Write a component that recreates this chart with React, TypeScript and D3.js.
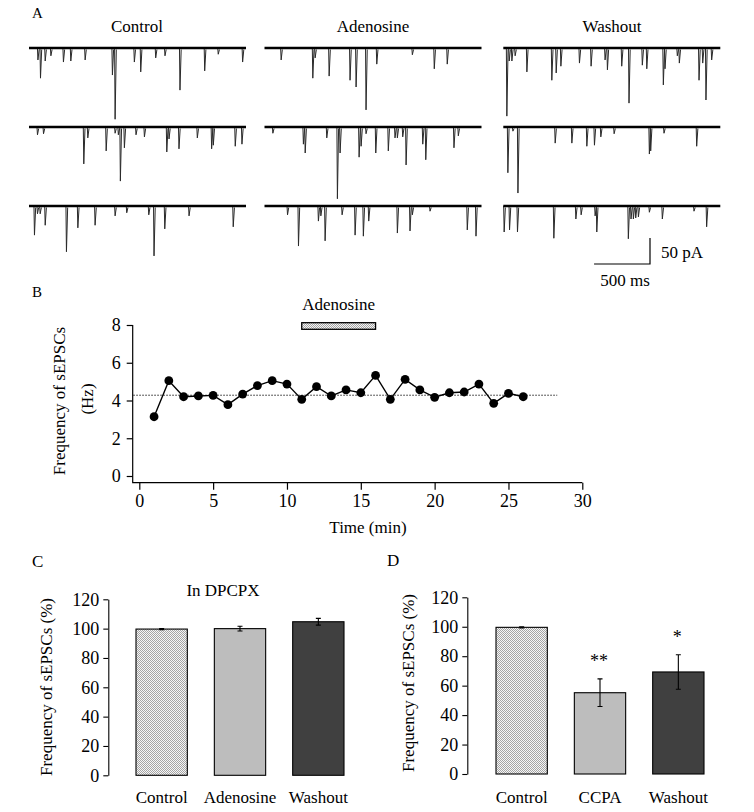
import React, { useEffect, useRef } from 'react';
import * as d3 from 'd3';

const W = 754;
const H = 812;
const FONT = '"Liberation Serif", "Times New Roman", serif';

// --- Panel A: sweeps, events as [time (ms), amplitude (pA)] ---
const TRACE_MS = 1940;
const controlRow1 = [[78, 23], [101, 58], [143, 25], [194, 15], [306, 27], [372, 25], [500, 23], [744, 52], [768, 137], [940, 27], [997, 46], [1131, 19], [1214, 15], [1348, 81], [1569, 44], [1690, 12], [1908, 27]];
const controlRow2 = [[74, 15], [128, 13], [488, 71], [524, 21], [688, 46], [768, 12], [797, 15], [815, 104], [851, 40], [955, 15], [1030, 19], [1230, 48], [1250, 23], [1339, 42], [1503, 21], [1631, 42], [1646, 35], [1842, 37], [1902, 33]];
const controlRow3 = [[47, 56], [74, 15], [98, 15], [143, 37], [333, 88], [435, 42], [589, 37], [768, 19], [872, 13], [1069, 17], [1116, 96], [1212, 44], [1429, 19], [1824, 40]];
const adenosineRow1 = [[147, 23], [430, 58], [451, 19], [576, 54], [763, 62], [817, 75], [906, 119], [1002, 31], [1320, 13], [1516, 40], [1632, 31]];
const adenosineRow2 = [[73, 12], [346, 33], [362, 50], [555, 21], [650, 138], [674, 50], [844, 58], [862, 37], [906, 13], [993, 50], [1105, 46], [1165, 21], [1186, 21], [1234, 19], [1264, 73], [1413, 33], [1440, 63], [1692, 40], [1731, 17]];
const adenosineRow3 = [[204, 17], [302, 77], [480, 29], [502, 19], [540, 67], [692, 17], [808, 56], [882, 58], [930, 29], [1186, 52], [1299, 48], [1320, 17], [1478, 10], [1811, 46], [1889, 58]];
const washoutRow1 = [[30, 131], [51, 25], [75, 25], [104, 15], [209, 46], [432, 62], [471, 48], [513, 35], [679, 29], [783, 35], [908, 23], [929, 42], [1057, 35], [1122, 106], [1241, 33], [1281, 40], [1429, 71], [1444, 40], [1554, 15], [1572, 29], [1748, 62], [1781, 29], [1810, 100], [1861, 23]];
const washoutRow2 = [[39, 88], [84, 8], [129, 127], [462, 31], [611, 31], [745, 37], [813, 35], [870, 19], [989, 13], [1304, 52], [1316, 46], [1435, 12], [1727, 37]];
const washoutRow3 = [[6, 50], [54, 46], [125, 50], [450, 62], [647, 25], [694, 17], [819, 19], [834, 50], [1116, 63], [1140, 25], [1161, 25], [1182, 23], [1206, 21], [1304, 12], [1420, 25], [1703, 10], [1816, 40]];
const traceConditions = ['Control', 'Adenosine', 'Washout'];
const traceSets = [
    [controlRow1, controlRow2, controlRow3],
    [adenosineRow1, adenosineRow2, adenosineRow3],
    [washoutRow1, washoutRow2, washoutRow3],
];

// --- Panel B: time course ---
const timeMin = [1, 2, 3, 4, 5, 6, 7, 8, 9, 10, 11, 12, 13, 14, 15, 16, 17, 18, 19, 20, 21, 22, 23, 24, 25, 26];
const freqHz = [3.14, 5.05, 4.2, 4.24, 4.27, 3.78, 4.34, 4.79, 5.05, 4.87, 4.06, 4.73, 4.24, 4.56, 4.41, 5.33, 4.06, 5.12, 4.56, 4.17, 4.41, 4.45, 4.87, 3.85, 4.38, 4.2];
const baselineHz = 4.28;
const baselineSpan = [-0.4, 28.3];
const drugSpan = [11, 16];

// --- Panels C & D: bars ---
const dpcpxGroups = ['Control', 'Adenosine', 'Washout'];
const dpcpxMean = [99.7, 100, 104.7];
const dpcpxSem = [0.4, 1.6, 2.3];
const ccpaGroups = ['Control', 'CCPA', 'Washout'];
const ccpaMean = [99.6, 55.2, 69.3];
const ccpaSem = [0.4, 9.4, 11.7];
const ccpaStars = ['', '**', '*'];
const barFills = ['url(#dither)', '#bdbdbd', '#404040'];

const App = () => {
    const svgRef = useRef(null);

    useEffect(() => {
        document.body.style.margin = '0';
        const svg = d3.select(svgRef.current);
        svg.selectAll('*').remove();
        svg.style('font-family', FONT).style('background', '#fff');

        // fine checker (dither) fill used for control bars and the drug bar
        const defs = svg.append('defs');
        const pat = defs.append('pattern').attr('id', 'dither')
            .attr('patternUnits', 'userSpaceOnUse').attr('width', 2).attr('height', 2);
        pat.append('rect').attr('width', 2).attr('height', 2).attr('fill', '#f6f6f6');
        pat.append('rect').attr('x', 0).attr('y', 0).attr('width', 1).attr('height', 1).attr('fill', '#a4a4a4');
        pat.append('rect').attr('x', 1).attr('y', 1).attr('width', 1).attr('height', 1).attr('fill', '#a4a4a4');

        const letter = (t, x, y, size) => svg.append('text').attr('x', x).attr('y', y)
            .attr('font-size', size).text(t);
        const label = (t, x, y, size = 17, anchor = 'middle') => svg.append('text')
            .attr('x', x).attr('y', y).attr('font-size', size).attr('text-anchor', anchor).text(t);
        const vlabel = (t, x, y) => svg.append('text')
            .attr('transform', `translate(${x},${y}) rotate(-90)`)
            .attr('font-size', 17).attr('text-anchor', 'middle').text(t);

        // ---------- A ----------
        letter('A', 32, 18, 15);
        const colX = [29, 264.5, 503.3];
        const rowY = [48, 127, 206];
        const titleX = [137, 373, 612];
        const tx = d3.scaleLinear().domain([0, TRACE_MS]).range([0, 217]);
        const ty = d3.scaleLinear().domain([0, 50]).range([0, 26]);
        const spike = d3.line();

        traceConditions.forEach((cond, c) => {
            label(cond, titleX[c], 32);
            traceSets[c].forEach((events, r) => {
                const g = svg.append('g').attr('transform', `translate(${colX[c]},${rowY[r]})`);
                g.selectAll('path.ev').data(events).join('path').attr('class', 'ev')
                    .attr('d', ([t, a]) => spike([[tx(t) - 0.3, 0], [tx(t) + 0.2, ty(a)], [tx(t) + 1.4, 1.5]]))
                    .attr('fill', 'none').attr('stroke', '#2a2a2a').attr('stroke-width', 1);
                g.append('line').attr('x1', tx(0)).attr('x2', tx(TRACE_MS)).attr('y1', 0).attr('y2', 0)
                    .attr('stroke', '#000').attr('stroke-width', 2.3);
            });
        });

        // scale bar
        const sbX = 650, sbY = 264;
        svg.append('path')
            .attr('d', `M${sbX},${sbY - ty(50)} L${sbX},${sbY} L${sbX - tx(500)},${sbY}`)
            .attr('fill', 'none').attr('stroke', '#000').attr('stroke-width', 1.2);
        label('50 pA', 661, 258, 17, 'start');
        label('500 ms', 625, 286);

        // ---------- B ----------
        letter('B', 32, 297, 15);
        const bx = d3.scaleLinear().domain([0, 30]).range([139.3, 582.3]);
        const by = d3.scaleLinear().domain([0, 8]).range([476, 325]);
        const axisY = 482.7, axisX = 132.7;

        const gy = svg.append('g').attr('transform', `translate(${axisX},0)`)
            .call(d3.axisLeft(by).tickValues([0, 2, 4, 6, 8]).tickSize(6).tickPadding(6).tickSizeOuter(0));
        gy.select('.domain').remove();
        const gx = svg.append('g').attr('transform', `translate(0,${axisY})`)
            .call(d3.axisBottom(bx).tickValues([0, 5, 10, 15, 20, 25, 30]).tickSize(7).tickPadding(5).tickSizeOuter(0));
        gx.select('.domain').remove();
        [gx, gy].forEach(g => {
            g.selectAll('text').attr('font-size', 18).attr('font-family', FONT).attr('fill', '#000');
            g.selectAll('line').attr('stroke-width', 1.2);
        });
        svg.append('path')
            .attr('d', `M${axisX},${by(8)} L${axisX},${axisY} L${bx(30)},${axisY}`)
            .attr('fill', 'none').attr('stroke', '#000').attr('stroke-width', 1.2);

        svg.append('line')
            .attr('x1', bx(baselineSpan[0])).attr('x2', bx(baselineSpan[1]))
            .attr('y1', by(baselineHz)).attr('y2', by(baselineHz))
            .attr('stroke', '#000').attr('stroke-width', 1).attr('stroke-dasharray', '1.3,1.7');

        const pts = timeMin.map((t, i) => [t, freqHz[i]]);
        svg.append('path').datum(pts)
            .attr('d', d3.line().x(d => bx(d[0])).y(d => by(d[1])))
            .attr('fill', 'none').attr('stroke', '#000').attr('stroke-width', 1.4);
        svg.append('g').selectAll('circle').data(pts).join('circle')
            .attr('cx', d => bx(d[0])).attr('cy', d => by(d[1])).attr('r', 4.4).attr('fill', '#000');

        svg.append('rect')
            .attr('x', bx(drugSpan[0])).attr('y', 322.7)
            .attr('width', bx(drugSpan[1]) - bx(drugSpan[0])).attr('height', 6.6)
            .attr('fill', 'url(#dither)').attr('stroke', '#000').attr('stroke-width', 1.3);
        label('Adenosine', (bx(drugSpan[0]) + bx(drugSpan[1])) / 2, 310);
        label('Time (min)', 368, 533);
        vlabel('Frequency of sEPSCs', 65, 401);
        vlabel('(Hz)', 92.5, 399);

        // ---------- C & D ----------
        const barPanel = (groups, mean, sem, stars, axX, y0, y120, r0, r1, ylabX, ylabY, catY) => {
            const y = d3.scaleLinear().domain([0, 120]).range([y0, y120]);
            const x = d3.scaleBand().domain(groups).range([r0, r1]).paddingInner(0.345).paddingOuter(0);
            const ga = svg.append('g').attr('transform', `translate(${axX},0)`)
                .call(d3.axisLeft(y).tickValues([0, 20, 40, 60, 80, 100, 120]).tickSize(5).tickPadding(4).tickSizeOuter(0));
            ga.selectAll('text').attr('font-size', 18).attr('font-family', FONT).attr('fill', '#000');
            ga.selectAll('line, path').attr('stroke-width', 1.1);

            const g = svg.append('g');
            g.selectAll('rect').data(groups).join('rect')
                .attr('x', d => x(d)).attr('width', x.bandwidth())
                .attr('y', (d, i) => y(mean[i])).attr('height', (d, i) => y(0) - y(mean[i]))
                .attr('fill', (d, i) => barFills[i]).attr('stroke', '#000').attr('stroke-width', 1.1);

            groups.forEach((grp, i) => {
                const cx = x(grp) + x.bandwidth() / 2;
                const hi = y(mean[i] + sem[i]);
                const lo = y(mean[i] - sem[i]);
                g.append('path')
                    .attr('d', `M${cx},${hi} L${cx},${lo} M${cx - 2.5},${hi} L${cx + 2.5},${hi} M${cx - 2.5},${lo} L${cx + 2.5},${lo}`)
                    .attr('stroke', '#000').attr('stroke-width', 1.1).attr('fill', 'none');
                label(grp, cx, catY);
                if (stars[i]) label(stars[i], cx - 1, hi - 12, 18);
            });
            vlabel('Frequency of sEPSCs (%)', ylabX, ylabY);
        };

        letter('C', 32, 567, 17);
        label('In DPCPX', 223, 596);
        barPanel(dpcpxGroups, dpcpxMean, dpcpxSem, ['', '', ''], 108.3, 775.3, 599.3, 136, 344, 52, 687, 803);

        letter('D', 387, 566, 17);
        barPanel(ccpaGroups, ccpaMean, ccpaSem, ccpaStars, 467.3, 774, 597.3, 496, 704, 413.5, 683, 802.7);
    }, []);

    return <svg ref={svgRef} width={W} height={H}></svg>;
};

export default App;
